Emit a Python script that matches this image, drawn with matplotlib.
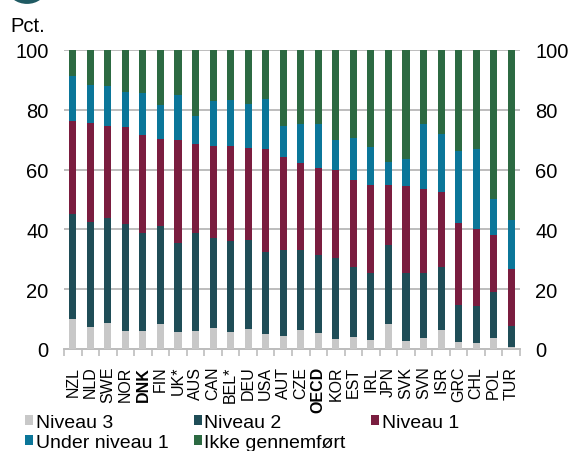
import matplotlib
matplotlib.use("Agg")
import matplotlib.pyplot as plt
import numpy as np
from matplotlib.patches import Circle

plt.rcParams["font.family"] = ["Liberation Sans", "DejaVu Sans"]

countries = ["NZL", "NLD", "SWE", "NOR", "DNK", "FIN", "UK*", "AUS", "CAN", "BEL*",
             "DEU", "USA", "AUT", "CZE", "OECD", "KOR", "EST", "IRL", "JPN", "SVK",
             "SVN", "ISR", "GRC", "CHL", "POL", "TUR"]
bold_labels = ["DNK", "OECD"]

niveau3 = [10.1, 7.3, 8.6, 5.9, 6.1, 8.2, 5.6, 6.1, 7.0, 5.8, 6.7, 5.1, 4.2, 6.4,
           5.4, 3.4, 4.1, 3.0, 8.2, 2.7, 3.6, 6.4, 2.5, 1.9, 3.6, 0.6]
niveau2 = [34.9, 35.2, 35.2, 35.9, 32.6, 33.1, 29.7, 32.8, 30.1, 30.4, 29.7, 27.3, 28.8, 26.8,
           26.1, 26.9, 23.4, 22.3, 26.5, 22.8, 21.8, 21.0, 12.2, 12.5, 15.4, 7.2]
niveau1 = [31.3, 33.1, 30.8, 32.4, 33.0, 29.1, 34.5, 29.7, 30.7, 31.6, 30.9, 34.5, 31.2, 28.9,
           29.1, 29.7, 29.1, 29.6, 20.2, 29.0, 28.0, 25.1, 27.4, 25.6, 19.0, 18.9]
under_niveau1 = [15.1, 12.8, 13.2, 11.9, 14.0, 11.1, 15.3, 9.4, 15.2, 15.6, 14.7, 16.7, 10.3, 13.2,
                 14.5, 9.9, 14.0, 12.7, 7.7, 8.9, 21.7, 19.3, 24.0, 26.9, 12.1, 16.3]
ikke_gennemfoert = [8.6, 11.6, 12.2, 13.9, 14.3, 18.5, 14.9, 22.0, 17.0, 16.6, 18.0, 16.4, 25.5, 24.7,
                    24.9, 30.1, 29.4, 32.4, 37.4, 36.6, 24.9, 28.2, 33.9, 33.1, 49.9, 57.0]

series = [
    ("Niveau 3", niveau3, "#c8c8c8"),
    ("Niveau 2", niveau2, "#1f4d57"),
    ("Niveau 1", niveau1, "#7a1d3f"),
    ("Under niveau 1", under_niveau1, "#0b7699"),
    ("Ikke gennemført", ikke_gennemfoert, "#2c6a42"),
]

W, H = 576, 452
fig = plt.figure(figsize=(W / 100, H / 100), dpi=100)
ax = fig.add_axes([64 / W, 1 - 350 / H, (520 - 64) / W, (350 - 51) / H])

x = np.arange(len(countries))
bottom = np.zeros(len(countries))
handles = []
for name, vals, color in series:
    vals = np.asarray(vals)
    b = ax.bar(x, vals, width=0.4, bottom=bottom, color=color, label=name,
               linewidth=0, zorder=3)
    handles.append(b)
    bottom += vals

ax.set_xlim(-0.5, len(countries) - 0.5)
ax.set_ylim(0, 100)
ax.set_yticks(np.arange(0, 101, 20))
ax.yaxis.grid(True, color="#bdbdbd", linewidth=1.4, zorder=0)
ax.set_axisbelow(True)

for side in ["left", "right", "top"]:
    ax.spines[side].set_visible(False)
ax.spines["bottom"].set_color("#bdbdbd")
ax.spines["bottom"].set_linewidth(1.4)

ax.tick_params(axis="y", which="both", length=0, labelsize=14.5, pad=11,
               labelleft=True, labelright=True, left=False, right=False)

# boundary tick marks between categories, labels centred on bars
ax.set_xticks(np.arange(-0.5, len(countries), 1.0))
ax.tick_params(axis="x", which="major", length=5, width=1.2, color="#bdbdbd",
               labelbottom=False)
ax.set_xticks(x, minor=True)
ax.set_xticklabels(countries, minor=True, rotation=90)
ax.tick_params(axis="x", which="minor", length=0, labelsize=11.5, pad=12)
for lbl in ax.get_xticklabels(minor=True):
    if lbl.get_text() in bold_labels:
        lbl.set_fontweight("bold")

fig.text(10 / W, 1 - 32 / H, "Pct.", fontsize=14.5, ha="left", va="baseline")

# header badge
fig.add_artist(Circle((27 / W, 1 + 10 / H), 0.033, transform=fig.transFigure,
                      facecolor="#1f5a63", edgecolor="none"))

# legend entries filled row by row (3 per row)
order = [0, 3, 1, 4, 2]
leg = fig.legend(handles=[handles[i] for i in order], loc="upper left",
                 bbox_to_anchor=(25 / W, 1 - 415 / H), ncol=3, frameon=False,
                 fontsize=14, handlelength=0.4, handleheight=0.4,
                 handletextpad=0.15, columnspacing=1.3, borderpad=0,
                 borderaxespad=0, labelspacing=0.15)

fig.savefig("out.png", dpi=100)
